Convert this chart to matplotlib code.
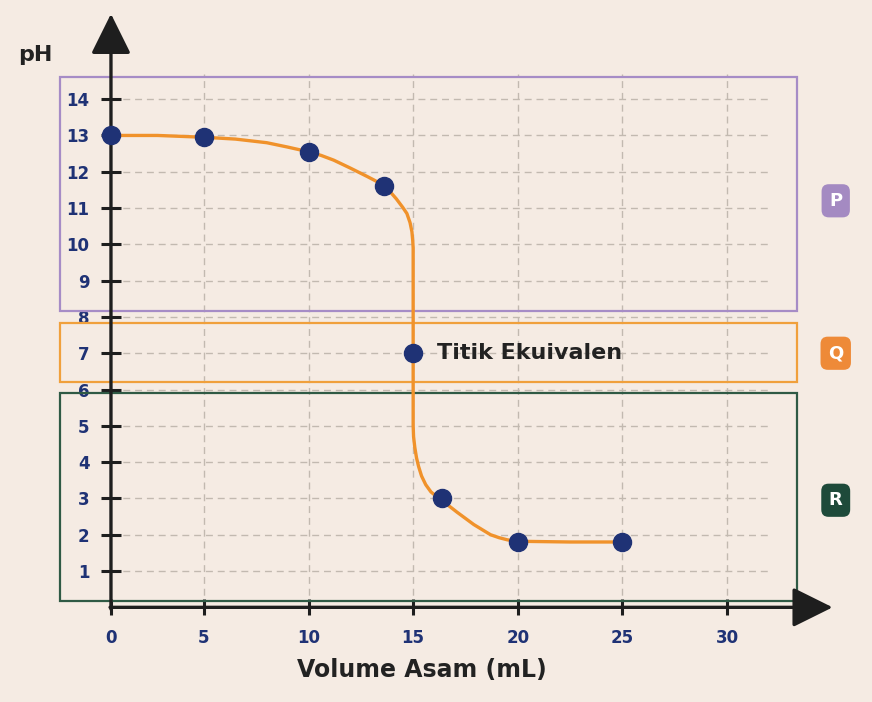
import matplotlib.pyplot as plt
import matplotlib.patches as mpatches
import numpy as np

# measured points (volume acid in mL, pH)
vol_pts = [0, 5, 10, 13.6, 15, 16.4, 20, 25]
ph_pts = [13.0, 12.95, 12.55, 11.6, 7.0, 3.0, 1.8, 1.8]

# titration curve
vol_curve = [0, 2.5, 5, 6.5, 8, 9, 10, 10.6, 11.2, 12.0, 12.8, 13.2, 13.6, 13.9, 14.2,
             14.5, 14.7, 14.85, 14.94, 14.98, 15.0, 15.0, 15.0, 15.0, 15.02, 15.08,
             15.16, 15.26, 15.4, 15.6, 15.85, 16.1, 16.4, 16.7, 17.1, 17.5, 17.9,
             18.3, 18.7, 19.1, 19.5, 20.0, 22.5, 25]
ph_curve = [13.0, 13.0, 12.95, 12.9, 12.8, 12.68, 12.55, 12.45, 12.32, 12.1, 11.87,
            11.75, 11.6, 11.45, 11.25, 11.02, 10.85, 10.6, 10.35, 10.1, 9.9, 7.0, 5.4,
            5.0, 4.7, 4.4, 4.12, 3.88, 3.62, 3.38, 3.18, 3.06, 3.0, 2.8, 2.62, 2.45,
            2.28, 2.14, 2.0, 1.92, 1.86, 1.82, 1.8, 1.8]

x_ticks = [0, 5, 10, 15, 20, 25, 30]
y_ticks = list(range(1, 15))

# regions (label, pH bottom, pH top, colour)
regions = [("P", 8.16, 14.6, "#A68CC6"),
           ("Q", 6.2, 7.83, "#F0A03C"),
           ("R", 0.17, 5.9, "#2F5A45")]
badge_y = [11.2, 7.0, 2.95]
badge_colors = ["#A48AC2", "#EE8A38", "#1E4A3A"]

bg = "#F5EBE3"
navy = "#1F3275"
orange = "#F0922B"
dark = "#222222"

# the drawn 0-5 interval is a bit narrower than the others
K = 93 / 104.6


def fwd(x):
    x = np.asarray(x, dtype=float)
    return np.where(x < 5, x * K, x - 5 + 5 * K)


def inv(f):
    f = np.asarray(f, dtype=float)
    return np.where(f < 5 * K, f / K, f + 5 - 5 * K)


plt.rcParams['font.family'] = ['DejaVu Sans']
fig = plt.figure(figsize=(8.72, 7.02), dpi=100, facecolor=bg)
ax = fig.add_axes([0.0526, 0.109, 0.925, 0.8842])
ax.set_facecolor(bg)
ax.set_xscale('function', functions=(fwd, inv))
ax.set_xlim(-3.5, 36)
ax.set_ylim(-0.5, 16.6)

# grid
for y in y_ticks:
    ax.plot([0, 32], [y, y], color="#C2B9B0", lw=1, dashes=(5, 3.5), zorder=1)
for x in x_ticks[1:]:
    ax.plot([x, x], [0, 14.7], color="#C2B9B0", lw=1, dashes=(5, 3.5), zorder=1)

# region boxes
for (lab, y0, y1, col) in regions:
    ax.add_patch(mpatches.Rectangle((-2.74, y0), 33.35 + 2.74, y1 - y0, fill=False,
                                    edgecolor=col, lw=1.6, zorder=2))

# badges
for (lab, _, _, _), by, bc in zip(regions, badge_y, badge_colors):
    ax.text(35.2, by, lab, color="white", fontsize=13, fontweight="bold",
            ha="center", va="center", zorder=5,
            bbox=dict(boxstyle="round,pad=0.42,rounding_size=0.4", fc=bc, ec="none"))

# axes with arrows
for s in ax.spines.values():
    s.set_visible(False)
ax.spines['left'].set_position(('data', 0))
ax.spines['bottom'].set_position(('data', 0))
arrow = dict(arrowstyle="-|>,head_length=1.25,head_width=0.62", color="#1E1E1E",
             lw=2.4, mutation_scale=20, shrinkA=0, shrinkB=0)
ax.annotate("", xy=(0, 16.35), xytext=(0, -0.05), arrowprops=arrow, zorder=4)
ax.annotate("", xy=(35.05, 0), xytext=(-0.05, 0), arrowprops=arrow, zorder=4)

ax.set_xticks(x_ticks)
ax.set_yticks(y_ticks)
ax.tick_params(axis='y', direction='inout', length=15, width=2.2, color="#1E1E1E",
               pad=8, labelcolor=navy, labelsize=12)
ax.tick_params(axis='x', direction='inout', length=11, width=2.2, color="#1E1E1E",
               pad=10, labelcolor=navy, labelsize=12)
for t in ax.get_xticklabels() + ax.get_yticklabels():
    t.set_fontweight("bold")

# curve and points
ax.plot(vol_curve, ph_curve, color=orange, lw=2.4, zorder=6,
        solid_capstyle="round", solid_joinstyle="round")
ax.plot(vol_pts, ph_pts, "o", color=navy, ms=13, zorder=7)

ax.text(16.15, 7.0, "Titik Ekuivalen", fontsize=16, fontweight="bold", color=dark,
        ha="left", va="center", zorder=8)

fig.text(35 / 872, 1 - 55 / 702, "pH", fontsize=16, fontweight="bold", color=dark,
         ha="center", va="center")
fig.text(422 / 872, 1 - 670 / 702, "Volume Asam (mL)", fontsize=17, fontweight="bold",
         color=dark, ha="center", va="center")

fig.savefig("out.png", dpi=100, facecolor=bg)
